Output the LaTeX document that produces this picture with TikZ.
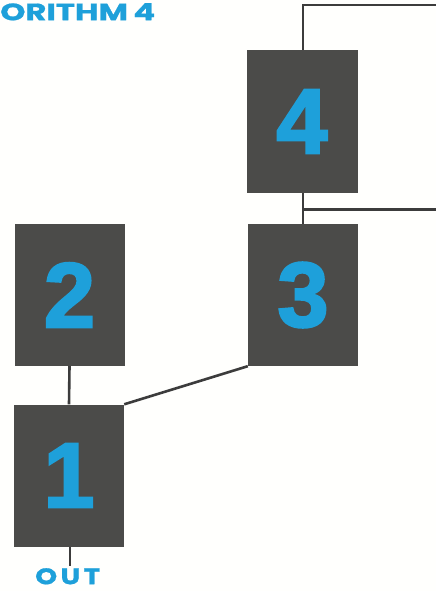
\documentclass[tikz,border=0pt]{standalone}
\usepackage{fontspec}
\usepackage{graphicx}
\setmainfont{Liberation Sans}
\newfontfamily\digitfont{Liberation Sans}[BoldFont={* Bold}, BoldFeatures={FakeBold=2.5}]
\newfontfamily\titlefont{Poppins}[BoldFeatures={FakeBold=0.8}]
\definecolor{boxgray}{HTML}{4B4B49}
\definecolor{numblue}{HTML}{1EA0DA}
\definecolor{linegray}{HTML}{3C3C3C}
\definecolor{paper}{HTML}{FFFFFD}
\tikzset{
  x=1pt, y=-1pt,
  numbox/.style={fill=boxgray, draw=none, inner sep=0pt, minimum width=110pt, minimum height=142pt,
    text=numblue, font=\digitfont\bfseries\fontsize{92}{92}\selectfont},
  wire/.style={draw=linegray, line width=2.6pt},
  label/.style={text=numblue, inner sep=0pt, font=\titlefont\bfseries\fontsize{24}{24}\selectfont}
}
\begin{document}
\begin{tikzpicture}
\fill[paper] (0,0) rectangle (436,591);
\useasboundingbox (0,0) rectangle (436,591);
\node[numbox, minimum width=111pt, minimum height=143pt] (b4) at (302,121.5) {4};
\node[numbox] (b3) at (303,295) {3};
\node[numbox] (b2) at (69.5,295) {2};
\node[numbox] (b1) at (69,475.5) {1};
\coordinate (tr) at (436,5);
\coordinate (jn) at (303,209.5);
\coordinate (mr) at (436,209.5);
\coordinate (outend) at (70,566);
\node[label, anchor=north west] (title) at (0,3) {\resizebox{155pt}{17pt}{ORITHM\,4}};
\node[label, anchor=north west] (out) at (35,568) {\resizebox{65pt}{16pt}{O\kern0.12em U\kern0.12em T}};
\draw[wire] ([xshift=1pt]b4.north) |- (tr);
\draw[wire] ([xshift=1pt]b4.south) -- (b3.north);
\draw[wire] (jn) -- (mr);
\draw[wire] (b2.south) -- (b1.north);
\draw[wire] (b3.south west) -- (b1.north east);
\draw[wire] ([xshift=1pt]b1.south) -- (outend);
\end{tikzpicture}
\end{document}
